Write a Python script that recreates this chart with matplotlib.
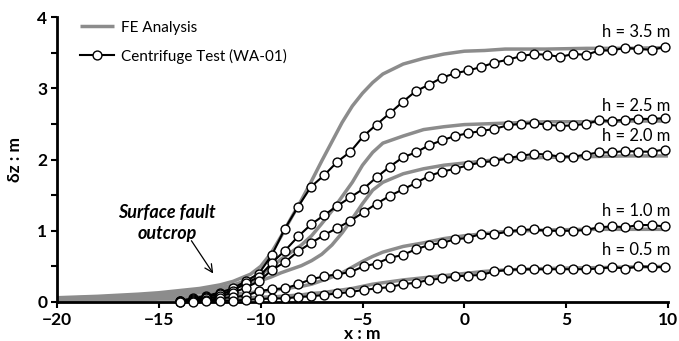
import matplotlib
matplotlib.use("Agg")
import matplotlib.pyplot as plt

plt.rcParams['font.family'] = ['Lato', 'DejaVu Sans']

# Centrifuge test (WA-01) measurement positions and values
test_x = [-13.95, -13.31, -12.66, -12.02, -11.38, -10.74, -10.09, -9.45, -8.81, -8.16,
          -7.52, -6.88, -6.23, -5.59, -4.95, -4.31, -3.66, -3.02, -2.38, -1.73,
          -1.09, -0.45, 0.20, 0.84, 1.48, 2.13, 2.77, 3.41, 4.05, 4.70,
          5.34, 5.98, 6.63, 7.27, 7.91, 8.55, 9.20, 9.84]
test_35 = [0.02, 0.05, 0.09, 0.13, 0.19, 0.29, 0.40, 0.66, 1.03, 1.34,
           1.62, 1.78, 1.97, 2.11, 2.33, 2.49, 2.65, 2.81, 2.96, 3.05,
           3.15, 3.21, 3.25, 3.30, 3.36, 3.40, 3.45, 3.48, 3.47, 3.44,
           3.48, 3.47, 3.53, 3.53, 3.57, 3.55, 3.54, 3.58]
test_25 = [0.02, 0.04, 0.07, 0.11, 0.16, 0.26, 0.35, 0.55, 0.72, 0.92,
           1.09, 1.22, 1.35, 1.47, 1.59, 1.75, 1.90, 2.03, 2.10, 2.20,
           2.27, 2.33, 2.37, 2.40, 2.43, 2.48, 2.50, 2.51, 2.49, 2.47,
           2.48, 2.50, 2.55, 2.54, 2.56, 2.57, 2.57, 2.58]
test_20 = [0.01, 0.03, 0.05, 0.08, 0.13, 0.20, 0.29, 0.45, 0.56, 0.71,
           0.83, 0.94, 1.04, 1.14, 1.26, 1.38, 1.49, 1.58, 1.67, 1.77,
           1.83, 1.87, 1.92, 1.96, 1.98, 2.02, 2.05, 2.08, 2.07, 2.04,
           2.04, 2.07, 2.10, 2.10, 2.12, 2.11, 2.11, 2.14]
test_10 = [0.00, 0.01, 0.03, 0.05, 0.07, 0.09, 0.15, 0.18, 0.19, 0.25,
           0.32, 0.36, 0.39, 0.42, 0.50, 0.54, 0.62, 0.66, 0.74, 0.80,
           0.83, 0.88, 0.90, 0.96, 0.95, 0.99, 1.01, 1.02, 1.00, 1.00,
           1.00, 1.01, 1.05, 1.06, 1.05, 1.08, 1.08, 1.06]
test_05 = [0.00, 0.00, 0.01, 0.02, 0.02, 0.03, 0.04, 0.05, 0.05, 0.07,
           0.08, 0.10, 0.12, 0.14, 0.17, 0.19, 0.21, 0.25, 0.27, 0.31,
           0.33, 0.36, 0.37, 0.38, 0.43, 0.45, 0.46, 0.46, 0.46, 0.46,
           0.46, 0.46, 0.47, 0.49, 0.47, 0.50, 0.49, 0.49]

# FE analysis curves
fe_x = [-20, -18, -16, -15, -14, -13, -12, -11.35, -10.5, -10,
        -9.5, -9, -8.5, -8, -7.5, -7, -6.5, -6, -5.5, -5,
        -4.5, -4, -3, -2, -1, 0, 1, 2, 4, 6, 8, 10]
fe_35 = [0.06, 0.08, 0.11, 0.13, 0.16, 0.19, 0.24, 0.29, 0.39, 0.50,
         0.68, 0.92, 1.18, 1.43, 1.70, 1.98, 2.25, 2.52, 2.75, 2.93,
         3.08, 3.20, 3.34, 3.42, 3.48, 3.52, 3.53, 3.55, 3.55, 3.56, 3.56, 3.57]
fe_25 = [0.05, 0.07, 0.09, 0.11, 0.13, 0.16, 0.20, 0.24, 0.32, 0.39,
         0.48, 0.60, 0.70, 0.80, 0.93, 1.10, 1.28, 1.48, 1.68, 1.92,
         2.10, 2.23, 2.33, 2.42, 2.46, 2.49, 2.50, 2.51, 2.53, 2.53, 2.54, 2.54]
fe_20 = [0.04, 0.06, 0.08, 0.09, 0.11, 0.13, 0.16, 0.20, 0.26, 0.30,
         0.35, 0.41, 0.46, 0.51, 0.58, 0.67, 0.80, 0.97, 1.17, 1.38,
         1.57, 1.68, 1.80, 1.87, 1.92, 1.95, 1.98, 2.01, 2.03, 2.04, 2.05, 2.05]
fe_10 = [0.03, 0.04, 0.05, 0.06, 0.07, 0.08, 0.10, 0.11, 0.13, 0.15,
         0.16, 0.18, 0.20, 0.22, 0.25, 0.30, 0.35, 0.41, 0.49, 0.57,
         0.64, 0.70, 0.78, 0.83, 0.89, 0.93, 0.96, 0.99, 1.01, 1.02, 1.02, 1.02]
fe_05 = [0.02, 0.03, 0.03, 0.04, 0.04, 0.05, 0.05, 0.06, 0.06, 0.07,
         0.07, 0.08, 0.09, 0.10, 0.12, 0.13, 0.15, 0.17, 0.19, 0.22,
         0.25, 0.27, 0.31, 0.34, 0.37, 0.40, 0.43, 0.45, 0.47, 0.48, 0.49, 0.50]

h_labels = ["h = 3.5 m", "h = 2.5 m", "h = 2.0 m", "h = 1.0 m", "h = 0.5 m"]
h_label_y = [3.79, 2.75, 2.33, 1.28, 0.73]

fe_all = [fe_35, fe_25, fe_20, fe_10, fe_05]
test_all = [test_35, test_25, test_20, test_10, test_05]

fig = plt.figure(figsize=(6.79, 3.41), dpi=100)
ax = fig.add_axes([57/679, 1 - 302/341, (668-57)/679, (302-17)/341])

grey = '#8c8c8c'
for i, fy in enumerate(fe_all):
    ax.plot(fe_x, fy, color=grey, lw=2.5, solid_capstyle='butt', zorder=2,
            label='FE Analysis' if i == 0 else None)
for i, ty in enumerate(test_all):
    ax.plot(test_x, ty, color='black', lw=1.5, marker='o', ms=6.4,
            mfc='white', mec='black', mew=1.0, zorder=3, clip_on=False,
            label='Centrifuge Test (WA-01)' if i == 0 else None)

ax.set_xlim(-20, 10)
ax.set_ylim(0, 4)
ax.set_xticks([-20, -15, -10, -5, 0, 5, 10])
ax.set_yticks([0, 1, 2, 3, 4])
ax.set_yticks([0.5, 1.5, 2.5, 3.5], minor=True)
for s in ['top', 'right']:
    ax.spines[s].set_visible(False)
for s in ['left', 'bottom']:
    ax.spines[s].set_linewidth(2.0)
ax.tick_params(axis='both', which='major', direction='out', length=4, width=1.5,
               labelsize=12.5, pad=3)
ax.tick_params(axis='y', which='minor', direction='out', length=4, width=1.5)
for lab in ax.get_xticklabels() + ax.get_yticklabels():
    lab.set_fontweight('bold')

ax.set_xlabel('x : m', fontsize=12.5, fontweight='bold', labelpad=-1)
ax.set_ylabel('δz : m', fontsize=12.5, fontweight='bold', labelpad=10)

for lbl, yy in zip(h_labels, h_label_y):
    ax.text(10.1, yy, lbl, ha='right', va='center', fontsize=12)

ax.text(-14.6, 1.11, 'Surface fault\noutcrop', ha='center', va='center',
        fontsize=13, fontweight='bold', fontstyle='italic', linespacing=1.25)
ax.annotate('', xy=(-12.33, 0.40), xytext=(-13.4, 0.86),
            arrowprops=dict(arrowstyle='->', color='black', lw=0.9,
                            shrinkA=0, shrinkB=0, mutation_scale=14))

leg = ax.legend(loc='upper left', bbox_to_anchor=(0.015, 1.035), frameon=False,
                fontsize=11, handlelength=2.2, handletextpad=0.5,
                labelspacing=0.9)

fig.savefig('out.png', dpi=100)
